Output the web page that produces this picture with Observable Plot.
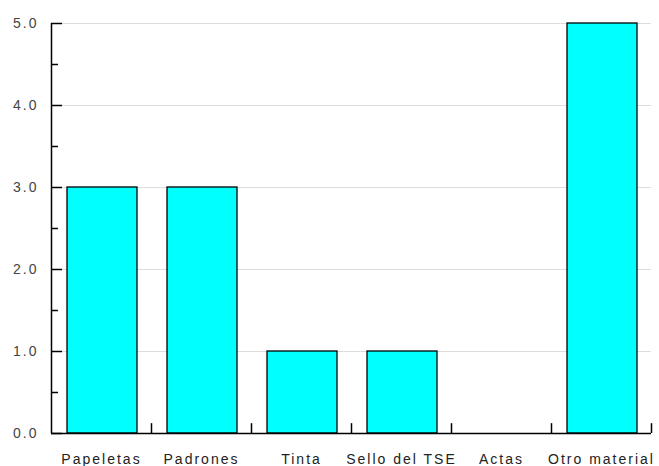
<!DOCTYPE html>
<html>
<head>
<meta charset="utf-8">
<script src="https://cdn.jsdelivr.net/npm/d3@7"></script>
<script src="https://cdn.jsdelivr.net/npm/@observablehq/plot@0.6"></script>
<style>
  html, body { margin: 0; padding: 0; background: #fff; }
  svg { display: block; }
  #chart svg text { font-size: 14px !important; letter-spacing: 2px; font-family: 'Liberation Sans', Arial, sans-serif; }
</style>
</head>
<body>
<div id="chart"></div>
<script>
const categories = ["Papeletas", "Padrones", "Tinta", "Sello del TSE", "Actas", "Otro material"];
const values = [3, 3, 1, 1, 0, 5];
const yMajorTicks = [0, 1, 2, 3, 4, 5];
const yMinorTicks = [0.5, 1.5, 2.5, 3.5, 4.5];

const data = categories.map((c, i) => ({category: c, index: i, value: values[i]}));
const boundaries = d3.range(1, categories.length + 1);
const centers = categories.map((c, i) => i + 0.5);

const chart = Plot.plot({
  width: 659,
  height: 466,
  marginLeft: 51,
  marginRight: 8,
  marginTop: 23,
  marginBottom: 33,
  style: {fontFamily: "'Liberation Sans', Arial, sans-serif", fontSize: "14px", color: "#444", background: "#fff"},
  x: {domain: [0, categories.length]},
  y: {domain: [0, 5]},
  marks: [
    Plot.ruleY(yMajorTicks.filter(d => d > 0), {x1: 0, x2: categories.length, stroke: "#dcdcdc", strokeWidth: 1}),
    Plot.rectY(data.filter(d => d.value > 0), {x1: d => d.index + 0.16, x2: d => d.index + 0.86, y1: 0, y2: "value", fill: "#00ffff", stroke: "#000", strokeWidth: 1.3}),
    Plot.ruleX([0], {y1: 0, y2: 5, stroke: "#000", strokeWidth: 1.5}),
    Plot.ruleY([0], {x1: 0, x2: categories.length, stroke: "#000", strokeWidth: 1.5}),
    Plot.ruleY(yMajorTicks, {x1: 0, x2: 0.11, stroke: "#000", strokeWidth: 1.5}),
    Plot.ruleY(yMinorTicks, {x1: 0, x2: 0.07, stroke: "#000", strokeWidth: 1.5}),
    Plot.ruleX(boundaries, {y1: 0, y2: 0.12, stroke: "#000", strokeWidth: 1.5}),
    Plot.axisY({ticks: yMajorTicks, tickSize: 0, tickPadding: 13, tickFormat: d3.format(".1f"), label: null, fill: "#444"}),
    Plot.axisX({ticks: centers, tickSize: 0, tickPadding: 21, tickFormat: d => categories[d - 0.5], label: null, fill: "#222"})
  ]
});
document.getElementById("chart").appendChild(chart);
</script>
</body>
</html>
